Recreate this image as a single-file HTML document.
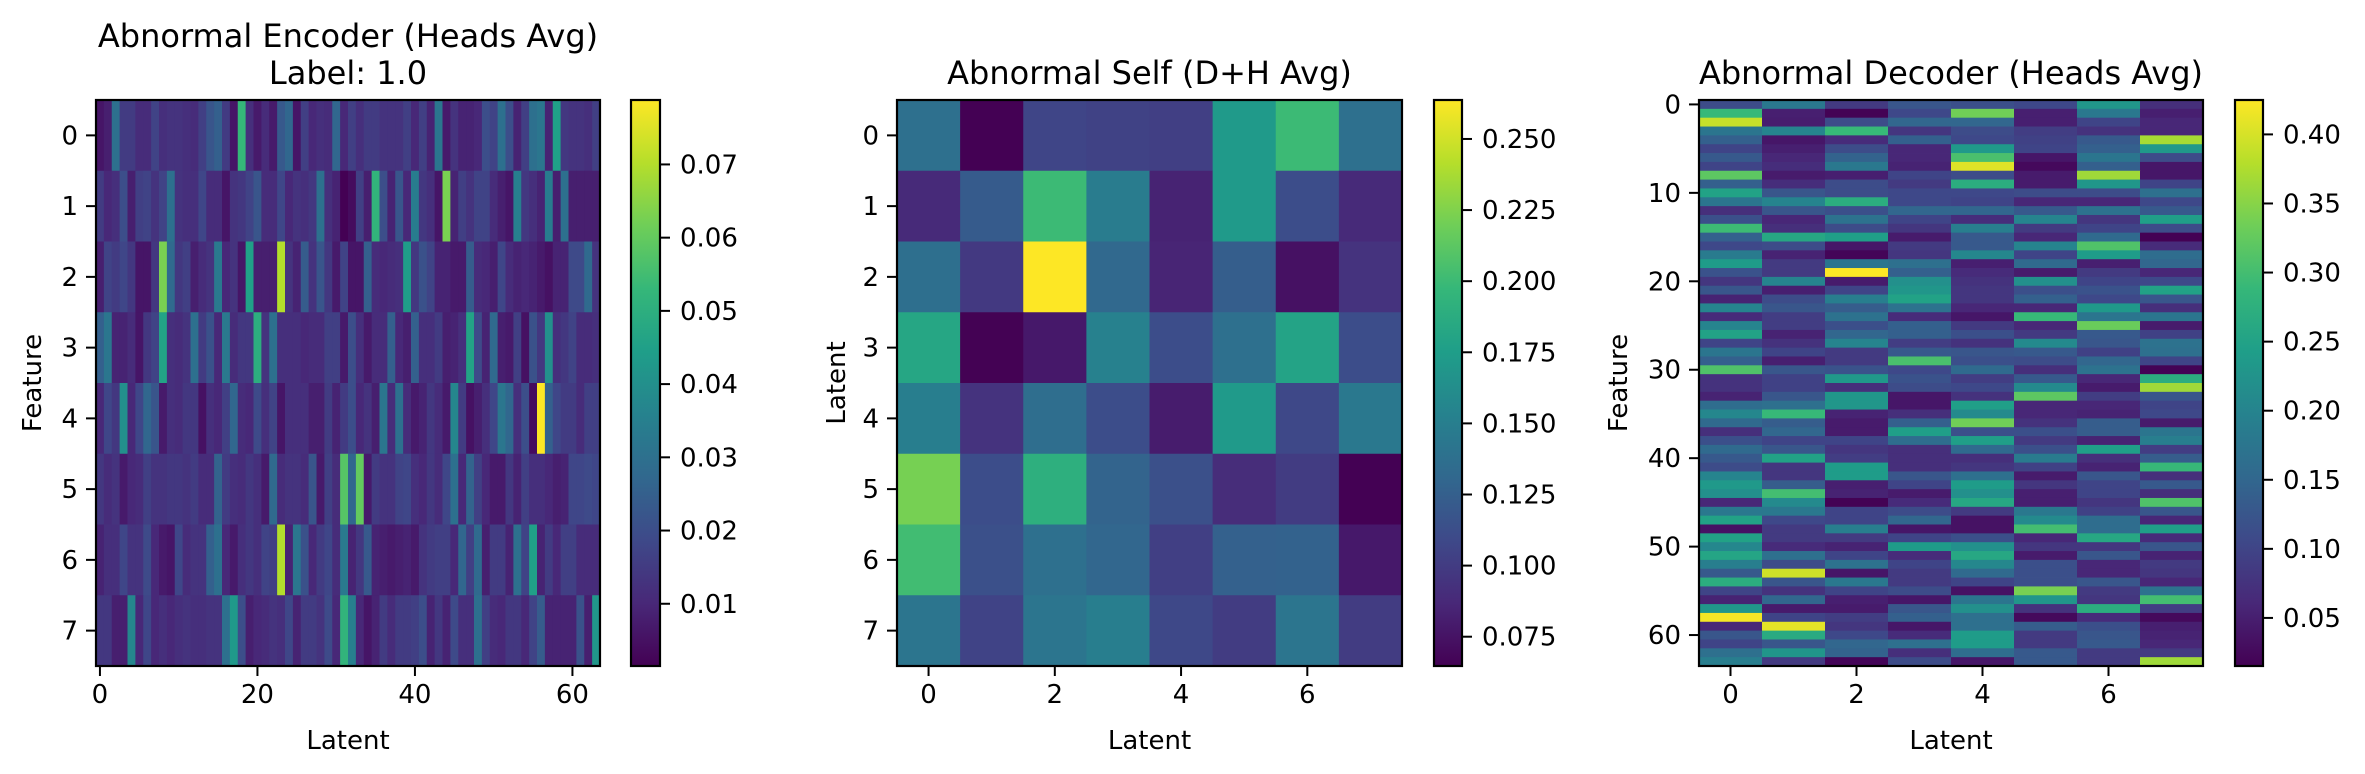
<!DOCTYPE html>
<html><head><meta charset="utf-8">
<style>
html,body{margin:0;padding:0;background:#fff;}
svg{display:block;}
text{font-family:"DejaVu Sans","Liberation Sans",sans-serif;fill:#000;}
</style></head>
<body>
<svg id="fig" width="2365" height="774" viewBox="0 0 2365 774" xmlns="http://www.w3.org/2000/svg">
<defs>
<linearGradient id="viridis" x1="0" y1="1" x2="0" y2="0">
<stop offset="0" stop-color="#440154"/><stop offset="0.111" stop-color="#482878"/><stop offset="0.222" stop-color="#3e4989"/><stop offset="0.333" stop-color="#31688e"/><stop offset="0.444" stop-color="#26828e"/><stop offset="0.555" stop-color="#1f9e89"/><stop offset="0.666" stop-color="#35b779"/><stop offset="0.777" stop-color="#6ece58"/><stop offset="0.888" stop-color="#b5de2b"/><stop offset="1" stop-color="#fde725"/>
</linearGradient>
</defs>
</svg>
<script>
// ---------- DATA ----------
const encoderRows = [
[0.006,0.008,0.03,0.015,0.015,0.011,0.011,0.017,0.012,0.013,0.013,0.012,0.011,0.016,0.022,0.025,0.015,0.006,0.053,0.012,0.007,0.011,0.007,0.023,0.027,0.006,0.016,0.01,0.012,0.011,0.027,0.01,0.016,0.012,0.015,0.015,0.013,0.013,0.013,0.016,0.01,0.016,0.009,0.032,0.007,0.013,0.009,0.009,0.01,0.02,0.017,0.03,0.02,0.009,0.016,0.03,0.032,0.009,0.045,0.014,0.013,0.013,0.012,0.016],
[0.015,0.01,0.012,0.02,0.008,0.016,0.017,0.013,0.017,0.03,0.013,0.012,0.012,0.018,0.011,0.011,0.006,0.013,0.014,0.017,0.022,0.011,0.011,0.018,0.01,0.013,0.012,0.014,0.03,0.012,0.009,0.0015,0.004,0.016,0.008,0.052,0.02,0.009,0.022,0.01,0.034,0.014,0.012,0.006,0.063,0.009,0.016,0.013,0.017,0.017,0.011,0.008,0.006,0.035,0.014,0.012,0.009,0.034,0.008,0.03,0.008,0.008,0.008,0.008],
[0.008,0.017,0.015,0.018,0.014,0.006,0.006,0.014,0.063,0.028,0.014,0.016,0.008,0.011,0.013,0.033,0.01,0.013,0.006,0.045,0.008,0.008,0.008,0.07,0.013,0.009,0.024,0.013,0.022,0.014,0.007,0.017,0.006,0.006,0.025,0.011,0.01,0.011,0.012,0.044,0.014,0.021,0.017,0.009,0.009,0.007,0.007,0.024,0.011,0.01,0.008,0.018,0.011,0.009,0.01,0.009,0.007,0.005,0.009,0.009,0.019,0.019,0.028,0.013],
[0.025,0.032,0.009,0.009,0.011,0.006,0.014,0.017,0.046,0.012,0.011,0.013,0.03,0.015,0.021,0.01,0.033,0.011,0.014,0.014,0.05,0.013,0.03,0.012,0.012,0.012,0.01,0.011,0.011,0.016,0.016,0.007,0.02,0.012,0.007,0.011,0.011,0.025,0.01,0.008,0.025,0.012,0.012,0.015,0.008,0.009,0.012,0.046,0.019,0.009,0.028,0.008,0.007,0.016,0.005,0.021,0.014,0.04,0.012,0.014,0.017,0.011,0.011,0.012],
[0.01,0.018,0.014,0.04,0.01,0.018,0.027,0.022,0.007,0.012,0.011,0.014,0.014,0.005,0.012,0.01,0.016,0.027,0.011,0.01,0.019,0.012,0.017,0.006,0.012,0.012,0.012,0.008,0.008,0.015,0.009,0.015,0.02,0.01,0.013,0.008,0.032,0.011,0.03,0.011,0.007,0.009,0.014,0.011,0.007,0.037,0.015,0.005,0.008,0.012,0.018,0.032,0.027,0.012,0.02,0.004,0.0788,0.025,0.018,0.015,0.015,0.011,0.016,0.016],
[0.014,0.011,0.013,0.007,0.01,0.011,0.016,0.013,0.013,0.014,0.014,0.013,0.015,0.011,0.011,0.026,0.015,0.012,0.011,0.014,0.012,0.007,0.028,0.011,0.013,0.013,0.011,0.022,0.007,0.016,0.011,0.058,0.027,0.06,0.007,0.015,0.013,0.013,0.017,0.018,0.012,0.01,0.014,0.011,0.018,0.03,0.01,0.026,0.016,0.01,0.007,0.007,0.014,0.009,0.016,0.012,0.012,0.01,0.008,0.009,0.018,0.018,0.019,0.018],
[0.009,0.012,0.012,0.018,0.013,0.013,0.019,0.01,0.007,0.006,0.018,0.011,0.013,0.013,0.025,0.03,0.01,0.007,0.012,0.014,0.012,0.017,0.016,0.07,0.009,0.032,0.021,0.01,0.015,0.018,0.011,0.033,0.009,0.014,0.023,0.009,0.008,0.007,0.008,0.009,0.007,0.013,0.015,0.016,0.016,0.01,0.027,0.016,0.028,0.008,0.015,0.015,0.009,0.03,0.017,0.045,0.009,0.015,0.01,0.016,0.016,0.011,0.011,0.011],
[0.014,0.014,0.008,0.008,0.037,0.01,0.018,0.01,0.012,0.01,0.012,0.013,0.012,0.012,0.013,0.013,0.03,0.043,0.02,0.008,0.01,0.011,0.013,0.012,0.018,0.009,0.015,0.015,0.013,0.019,0.01,0.052,0.035,0.01,0.006,0.009,0.015,0.011,0.015,0.015,0.016,0.02,0.009,0.014,0.009,0.019,0.012,0.012,0.03,0.016,0.011,0.01,0.014,0.014,0.01,0.017,0.024,0.009,0.009,0.009,0.009,0.021,0.008,0.042]
];
const selfRows = [
[0.138,0.0647,0.106,0.104,0.102,0.172,0.2,0.138],
[0.088,0.122,0.2,0.148,0.084,0.172,0.112,0.088],
[0.137,0.098,0.2637,0.132,0.085,0.124,0.074,0.094],
[0.182,0.065,0.078,0.152,0.112,0.138,0.18,0.112],
[0.15,0.094,0.136,0.112,0.08,0.172,0.108,0.145],
[0.222,0.112,0.19,0.128,0.114,0.09,0.1,0.0647],
[0.202,0.114,0.138,0.13,0.102,0.126,0.127,0.078],
[0.142,0.105,0.142,0.15,0.108,0.1,0.142,0.1]
];
const decoderRows = [
[0.11,0.18,0.085,0.125,0.115,0.105,0.23,0.07],
[0.29,0.05,0.017,0.105,0.335,0.05,0.18,0.05],
[0.39,0.048,0.11,0.15,0.15,0.05,0.1,0.06],
[0.175,0.2,0.29,0.08,0.11,0.09,0.075,0.06],
[0.14,0.04,0.065,0.14,0.105,0.095,0.13,0.37],
[0.1,0.05,0.11,0.06,0.235,0.1,0.14,0.235],
[0.13,0.06,0.145,0.06,0.305,0.04,0.175,0.11],
[0.1,0.068,0.18,0.055,0.405,0.025,0.14,0.04],
[0.32,0.045,0.05,0.1,0.11,0.045,0.365,0.04],
[0.14,0.068,0.11,0.085,0.27,0.045,0.23,0.1],
[0.25,0.125,0.11,0.105,0.105,0.11,0.11,0.165],
[0.175,0.2,0.27,0.105,0.1,0.06,0.06,0.105],
[0.07,0.125,0.115,0.15,0.15,0.13,0.17,0.13],
[0.115,0.06,0.17,0.1,0.068,0.2,0.08,0.245],
[0.295,0.07,0.11,0.08,0.19,0.085,0.1,0.11],
[0.14,0.26,0.245,0.045,0.13,0.06,0.155,0.0152],
[0.105,0.11,0.04,0.085,0.13,0.2,0.31,0.065],
[0.185,0.055,0.02,0.08,0.205,0.1,0.24,0.16],
[0.24,0.085,0.175,0.165,0.05,0.155,0.05,0.15],
[0.12,0.085,0.4249,0.14,0.065,0.045,0.085,0.06],
[0.08,0.2,0.045,0.22,0.075,0.22,0.1,0.105],
[0.125,0.05,0.1,0.23,0.08,0.115,0.12,0.25],
[0.055,0.11,0.19,0.25,0.08,0.14,0.105,0.125],
[0.2,0.125,0.135,0.17,0.06,0.06,0.235,0.07],
[0.065,0.09,0.17,0.065,0.04,0.29,0.175,0.175],
[0.2,0.09,0.115,0.14,0.085,0.06,0.33,0.045],
[0.25,0.055,0.15,0.14,0.115,0.085,0.13,0.095],
[0.1,0.075,0.2,0.09,0.075,0.21,0.125,0.17],
[0.175,0.1,0.085,0.13,0.125,0.13,0.095,0.165],
[0.14,0.05,0.085,0.305,0.115,0.11,0.15,0.1],
[0.31,0.125,0.12,0.105,0.155,0.07,0.17,0.017],
[0.075,0.095,0.235,0.12,0.09,0.13,0.06,0.27],
[0.075,0.095,0.07,0.11,0.105,0.21,0.045,0.365],
[0.055,0.125,0.23,0.04,0.075,0.32,0.09,0.125],
[0.16,0.165,0.23,0.04,0.245,0.06,0.06,0.1],
[0.205,0.29,0.055,0.07,0.21,0.06,0.055,0.105],
[0.155,0.135,0.045,0.14,0.335,0.075,0.135,0.045],
[0.07,0.15,0.045,0.245,0.115,0.115,0.135,0.175],
[0.115,0.1,0.1,0.16,0.245,0.085,0.055,0.19],
[0.155,0.125,0.08,0.07,0.155,0.115,0.245,0.09],
[0.13,0.25,0.09,0.07,0.07,0.185,0.07,0.135],
[0.11,0.08,0.24,0.07,0.08,0.095,0.055,0.29],
[0.2,0.08,0.24,0.125,0.165,0.045,0.125,0.07],
[0.235,0.135,0.05,0.1,0.24,0.08,0.1,0.13],
[0.22,0.3,0.055,0.045,0.22,0.05,0.1,0.07],
[0.06,0.21,0.017,0.065,0.26,0.05,0.08,0.31],
[0.18,0.18,0.1,0.11,0.085,0.18,0.095,0.125],
[0.25,0.105,0.1,0.15,0.035,0.21,0.16,0.06],
[0.035,0.085,0.19,0.04,0.035,0.3,0.16,0.245],
[0.25,0.085,0.085,0.1,0.115,0.06,0.26,0.065],
[0.205,0.065,0.055,0.24,0.22,0.08,0.08,0.125],
[0.255,0.165,0.1,0.065,0.26,0.045,0.125,0.055],
[0.19,0.11,0.17,0.1,0.205,0.115,0.06,0.085],
[0.13,0.395,0.04,0.085,0.155,0.115,0.06,0.08],
[0.27,0.125,0.18,0.085,0.1,0.115,0.125,0.06],
[0.1,0.075,0.1,0.11,0.035,0.34,0.085,0.17],
[0.055,0.15,0.05,0.04,0.175,0.23,0.08,0.3],
[0.23,0.045,0.045,0.125,0.22,0.075,0.27,0.09],
[0.42,0.1,0.09,0.14,0.165,0.025,0.065,0.025],
[0.06,0.41,0.08,0.04,0.165,0.135,0.115,0.05],
[0.125,0.265,0.105,0.065,0.24,0.085,0.125,0.055],
[0.1,0.125,0.15,0.165,0.24,0.085,0.13,0.06],
[0.165,0.23,0.145,0.07,0.16,0.13,0.085,0.085],
[0.19,0.085,0.02,0.11,0.04,0.13,0.085,0.365]
];
const encXTicks = [0,20,40,60];
const encYTicks = [0,1,2,3,4,5,6,7];
const selfXTicks = [0,2,4,6];
const selfYTicks = [0,1,2,3,4,5,6,7];
const decXTicks = [0,2,4,6];
const decYTicks = [0,10,20,30,40,50,60];
const encCbarTicks = [0.01,0.02,0.03,0.04,0.05,0.06,0.07];
const encCbarLabels = ["0.01","0.02","0.03","0.04","0.05","0.06","0.07"];
const selfCbarTicks = [0.075,0.1,0.125,0.15,0.175,0.2,0.225,0.25];
const selfCbarLabels = ["0.075","0.100","0.125","0.150","0.175","0.200","0.225","0.250"];
const decCbarTicks = [0.05,0.1,0.15,0.2,0.25,0.3,0.35,0.4];
const decCbarLabels = ["0.05","0.10","0.15","0.20","0.25","0.30","0.35","0.40"];

// ---------- RENDER ----------
const NS = "http://www.w3.org/2000/svg";
const svg = document.getElementById('fig');
const VIR = ["#440154","#482878","#3e4989","#31688e","#26828e","#1f9e89","#35b779","#6ece58","#b5de2b","#fde725"];
function hex(c){return [parseInt(c.slice(1,3),16),parseInt(c.slice(3,5),16),parseInt(c.slice(5,7),16)];}
function viridis(f){
  f=Math.max(0,Math.min(1,f));
  const p=f*(VIR.length-1), i=Math.min(VIR.length-2,Math.floor(p)), t=p-i;
  const a=hex(VIR[i]), b=hex(VIR[i+1]);
  return 'rgb('+a.map((v,k)=>Math.round(v+(b[k]-v)*t)).join(',')+')';
}
function mk(tag, attrs, parent){
  const e=document.createElementNS(NS,tag);
  for(const k in attrs) e.setAttribute(k,attrs[k]);
  (parent||svg).appendChild(e);
  return e;
}
function txt(s, x, y, size, anchor, parent, rot){
  const t=mk('text',{x:x,y:y,'font-size':size,'text-anchor':anchor||'middle'},parent);
  if(rot) t.setAttribute('transform','rotate(-90 '+x+' '+y+')');
  t.textContent=s;
  return t;
}

function panel(opt){
  const g=mk('g',{});
  
  
  const rows=opt.data, nr=rows.length, nc=rows[0].length;
  let vmin=Infinity, vmax=-Infinity;
  rows.forEach(r=>r.forEach(v=>{if(v<vmin)vmin=v;if(v>vmax)vmax=v;}));
  const B=opt.box;
  const xS=c=>B.x+c*B.w/nc;
  const yS=r=>B.y+r*B.h/nr;
  const xC=c=>xS(c+0.5), yC=r=>yS(r+0.5);
  const cells=mk('g',{},g);
  
  
  rows.forEach((row,r)=>row.forEach((v,c)=>{
    const rc=mk('rect',{x:xS(c).toFixed(2),y:yS(r).toFixed(2),width:(xS(c+1)-xS(c)+0.4).toFixed(2),height:(yS(r+1)-yS(r)+0.4).toFixed(2),fill:viridis((v-vmin)/(vmax-vmin))},cells);
    
    
  }));
  const fr=mk('rect',{x:B.x,y:B.y,width:B.w,height:B.h,fill:'none',stroke:'#000','stroke-width':2.2},g);
  
  
  opt.xt.forEach(v=>{
    const x=xC(v);
    mk('line',{x1:x,y1:B.y+B.h,x2:x,y2:B.y+B.h+10,stroke:'#000','stroke-width':2},g);
    const t=txt(String(v),x,B.y+B.h+37,26,'middle',g);
    
    
  });
  opt.yt.forEach(v=>{
    const y=yC(v);
    mk('line',{x1:B.x-10,y1:y,x2:B.x,y2:y,stroke:'#000','stroke-width':2},g);
    const t=txt(String(v),B.x-18,y+9,26,'end',g);
    
    
  });
  const xl=txt(opt.xlabel,B.x+B.w/2,749,26,'middle',g);
  
  
  const yl=txt(opt.ylabel,opt.ylx,B.y+B.h/2,26,'middle',g,true);
  
  
  opt.title.forEach((s,i)=>{
    const t=txt(s,B.x+B.w/2,opt.titleY+i*37,32,'middle',g);
    
    
  });
  const C=opt.cbar;
  const cb=mk('rect',{x:C.x,y:B.y,width:C.w,height:B.h,fill:'url(#viridis)',stroke:'#000','stroke-width':2.2},g);
  
  
  const cS=v=>B.y+B.h-(v-vmin)/(vmax-vmin)*B.h;
  opt.ct.forEach((v,i)=>{
    const y=cS(v);
    mk('line',{x1:C.x+C.w,y1:y,x2:C.x+C.w+10,y2:y,stroke:'#000','stroke-width':2},g);
    const t=txt(opt.cl[i],C.x+C.w+20,y+9,26,'start',g);
    
    
  });
}

panel({name:'encoder',data:encoderRows,box:{x:96,y:100,w:504,h:566},xt:encXTicks,yt:encYTicks,
  xlabel:'Latent',ylabel:'Feature',ylx:41,title:['Abnormal Encoder (Heads Avg)','Label: 1.0'],titleY:47,
  cbar:{x:631,w:29},ct:encCbarTicks,cl:encCbarLabels});
panel({name:'self',data:selfRows,box:{x:897,y:100,w:505,h:566},xt:selfXTicks,yt:selfYTicks,
  xlabel:'Latent',ylabel:'Latent',ylx:845,title:['Abnormal Self (D+H Avg)'],titleY:84,
  cbar:{x:1434,w:28},ct:selfCbarTicks,cl:selfCbarLabels});
panel({name:'decoder',data:decoderRows,box:{x:1699,y:100,w:504,h:566},xt:decXTicks,yt:decYTicks,
  xlabel:'Latent',ylabel:'Feature',ylx:1627,title:['Abnormal Decoder (Heads Avg)'],titleY:84,
  cbar:{x:2235,w:28},ct:decCbarTicks,cl:decCbarLabels});
</script>
</body></html>
